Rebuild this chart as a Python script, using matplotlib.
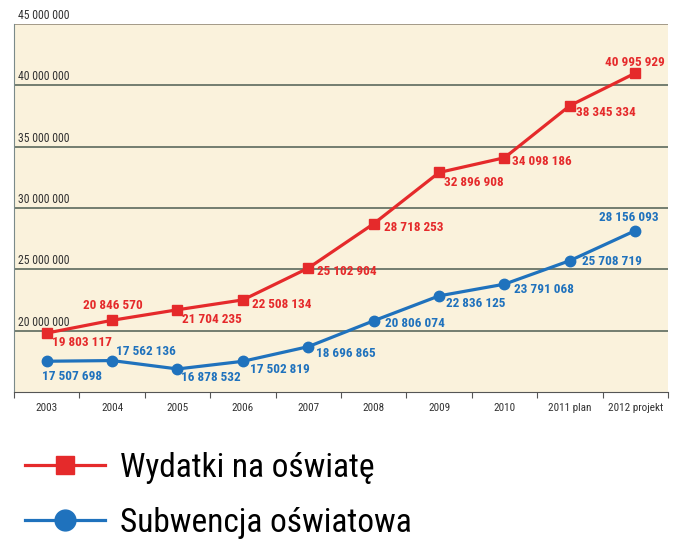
import numpy as np
import matplotlib
matplotlib.use("Agg")
import matplotlib.pyplot as plt
from matplotlib import font_manager

# dane
lata = ["2003", "2004", "2005", "2006", "2007", "2008", "2009", "2010", "2011 plan", "2012 projekt"]
wydatki = [19803117, 20846570, 21704235, 22508134, 25102904, 28718253, 32896908, 34098186, 38345334, 40995929]
subwencja = [17507698, 17562136, 16878532, 17502819, 18696865, 20806074, 22836125, 23791068, 25708719, 28156093]
y_ticks = [15000000, 20000000, 25000000, 30000000, 35000000, 40000000, 45000000]

# przesunięcia etykiet (piksele) i wyrównanie
off_w = [(5, -9, "left"), (1, 15, "center"), (5, -10, "left"), (9, -5, "left"), (9, -3, "left"),
         (10, -4, "left"), (5, -10, "left"), (8, -4, "left"), (6, -7, "left"), (0, 11, "center")]
off_s = [(-5, -15, "left"), (4, 9, "left"), (4, -9, "left"), (7, -8, "left"), (8, -7, "left"),
         (11, -3, "left"), (7, -8, "left"), (10, -5, "left"), (12, -1, "left"), (-6, 13, "center")]

names = {f.name for f in font_manager.fontManager.ttflist}
narrow = next((n for n in ["Roboto Condensed", "Liberation Sans Narrow", "Roboto"] if n in names), "DejaVu Sans")
plt.rcParams["font.family"] = [narrow, "DejaVu Sans"]

RED = "#e52a2b"
BLUE = "#1f72bd"
BG = "#faf2dc"
GRID = "#4f5e52"


def fmt(v):
    return f"{v:,}".replace(",", " ")


fig = plt.figure(figsize=(6.78, 5.44), dpi=100)
ax = fig.add_axes([14 / 678, 152 / 544, 654 / 678, 368 / 544])
ax.set_facecolor(BG)

x = np.arange(len(lata))
ax.set_xlim(-0.5, len(lata) - 0.5)
ax.set_ylim(15000000, 45000000)

for t in y_ticks[1:]:
    ax.axhline(t, color=GRID if t < 45000000 else "#8c8272", lw=1.1, zorder=1)
    ax.annotate(fmt(t), xy=(0.006, t), xycoords=("axes fraction", "data"),
                xytext=(0, 2), textcoords="offset pixels", ha="left", va="bottom",
                fontsize=8.5, color="#333333")

ax.plot(x, wydatki, color=RED, lw=2.3, marker="s", ms=6.5, zorder=3, label="Wydatki na oświatę")
ax.plot(x, subwencja, color=BLUE, lw=2.3, marker="o", ms=7.5, zorder=3, label="Subwencja oświatowa")

for i in range(len(lata)):
    dx, dy, ha = off_w[i]
    ax.annotate(fmt(wydatki[i]), xy=(x[i], wydatki[i]), xytext=(dx, dy), textcoords="offset pixels",
                ha=ha, va="center", fontsize=9.5, fontweight="bold", color=RED, zorder=4)
    dx, dy, ha = off_s[i]
    ax.annotate(fmt(subwencja[i]), xy=(x[i], subwencja[i]), xytext=(dx, dy), textcoords="offset pixels",
                ha=ha, va="center", fontsize=9.5, fontweight="bold", color=BLUE, zorder=4)

for s in ["top", "right"]:
    ax.spines[s].set_visible(False)
ax.spines["left"].set_color("#7a8a8a")
ax.spines["bottom"].set_color("#555555")
ax.set_yticks([])
ax.set_xticks(np.arange(len(lata) + 1) - 0.5)
ax.set_xticklabels([])
ax.set_xticks(x, minor=True)
ax.set_xticklabels(lata, minor=True, fontsize=8, color="#333333")
ax.tick_params(axis="x", which="major", length=4, direction="out", color="#555555")
ax.tick_params(axis="x", which="minor", length=0, pad=8)

fig.legend(loc="upper left", bbox_to_anchor=(8 / 678, 1 - 435 / 544), frameon=False,
           handlelength=2.4, handletextpad=0.45, labelspacing=0.7,
           markerscale=2.0, borderpad=0, prop={"family": [narrow, "DejaVu Sans"], "size": 24})

fig.savefig("out.png", dpi=100, facecolor="white")
